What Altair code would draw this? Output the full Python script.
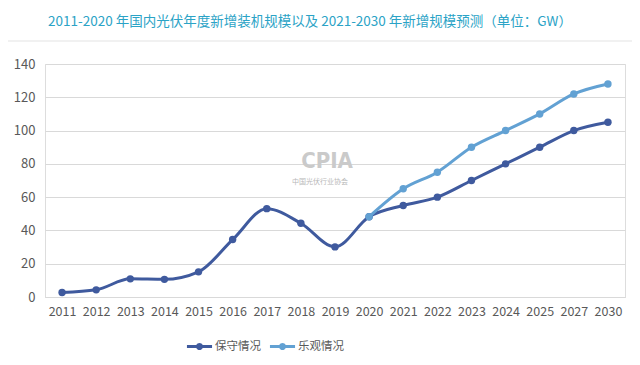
import altair as alt
import pandas as pd

years = ["2011", "2012", "2013", "2014", "2015", "2016", "2017", "2018", "2019",
         "2020", "2021", "2022", "2023", "2024", "2025", "2027", "2030"]
conservative = [2.7, 4.3, 10.9, 10.6, 15.1, 34.5, 53.1, 44.3, 30.1,
                48.2, 55, 60, 70, 80, 90, 100, 105]
opt_years = ["2020", "2021", "2022", "2023", "2024", "2025", "2027", "2030"]
optimistic = [48.2, 65, 75, 90, 100, 110, 122, 128]
series_names = ["保守情况", "乐观情况"]
series_colors = ["#3F5A9E", "#62A1D3"]

rows = [{"year": y, "value": v, "series": series_names[0]} for y, v in zip(years, conservative)]
rows += [{"year": y, "value": v, "series": series_names[1]} for y, v in zip(opt_years, optimistic)]
df = pd.DataFrame(rows)

FONT = "Noto Sans CJK SC"
color_scale = alt.Scale(domain=series_names, range=series_colors)

legend_path = ("M-1.5,-0.17 L-0.385,-0.17 A0.42,0.42 0 0,1 0.385,-0.17 L1.5,-0.17 "
               "L1.5,0.17 L0.385,0.17 A0.42,0.42 0 0,1 -0.385,0.17 L-1.5,0.17 Z")

legend = alt.Legend(title=None, orient="none", direction="horizontal",
                    legendX=146, legendY=274, symbolType=legend_path,
                    symbolSize=280, symbolStrokeWidth=0,
                    labelFont=FONT, labelFontSize=11.5, labelOffset=7,
                    labelColor="#595959", columnPadding=8, symbolOpacity=1)

x_enc = alt.X("year:N", sort=years, title=None,
              axis=alt.Axis(labelAngle=0, labelFont=FONT, labelFontSize=12.5,
                            labelColor="#595959", ticks=False, domainColor="#D9D9D9",
                            labelPadding=8, grid=False))
y_enc = alt.Y("value:Q", title=None, scale=alt.Scale(domain=[0, 140]),
              axis=alt.Axis(values=[0, 20, 40, 60, 80, 100, 120, 140], labelFont=FONT,
                            labelFontSize=13, labelColor="#595959", ticks=False,
                            domain=False, gridColor="#D9D9D9", labelPadding=10))
c_enc = alt.Color("series:N", scale=color_scale, sort=series_names, legend=legend)

base = alt.Chart(df)

lines = base.mark_line(strokeWidth=3, interpolate="monotone").encode(
    x=x_enc, y=y_enc, color=c_enc)
points = base.mark_point(size=55, filled=True, opacity=1, shape="circle").encode(
    x=x_enc, y=y_enc, color=c_enc)

cons_f = alt.datum.series == series_names[0]
opt_f = alt.datum.series == series_names[1]

wm1 = alt.Chart(pd.DataFrame({"t": ["CPIA"]})).mark_text(
    font="DejaVu Sans Condensed", fontWeight="bold", fontSize=22, color="#CACACA"
).encode(text="t:N", x=alt.value(282), y=alt.value(97))
wm2 = alt.Chart(pd.DataFrame({"t": ["中国光伏行业协会"]})).mark_text(
    font=FONT, fontSize=7, color="#B8B8B8"
).encode(text="t:N", x=alt.value(275), y=alt.value(118))

frame = alt.Chart(pd.DataFrame({"a": [0]})).mark_rect(
    fill=None, stroke="#E3E3E3", strokeWidth=1
).encode(x=alt.value(-41), x2=alt.value(588), y=alt.value(-23), y2=alt.value(320))

chart = alt.layer(
    frame, wm1, wm2,
    lines.transform_filter(cons_f), points.transform_filter(cons_f),
    lines.transform_filter(opt_f), points.transform_filter(opt_f),
).properties(
    width=580, height=233,
    autosize=alt.AutoSizeParams(type="none"),
    padding={"left": 37, "top": 56, "right": 7, "bottom": 60},
    title=alt.TitleParams(
        "2011-2020 年国内光伏年度新增装机规模以及 2021-2030 年新增规模预测（单位：GW）",
        font=FONT, fontSize=13.5, fontWeight="normal", color="#2BA3C6",
        anchor="middle", offset=12, dx=-25, frame="group"),
).configure_view(stroke=None).configure(background="white")

chart.save("out.html", embed_options={"renderer": "svg", "actions": False})
